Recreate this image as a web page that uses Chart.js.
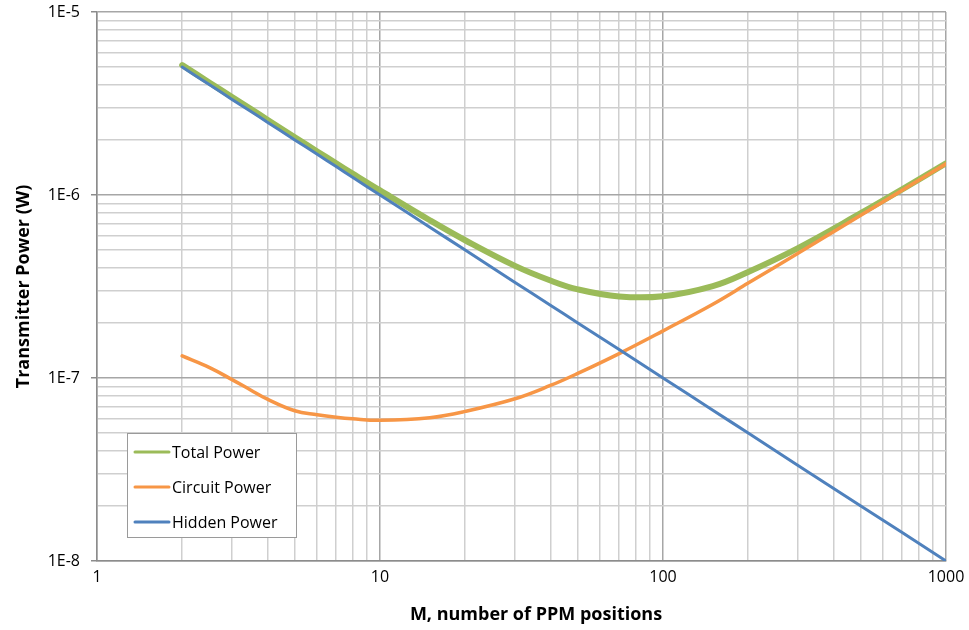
<!DOCTYPE html>
<html>
<head>
<meta charset="utf-8">
<script src="https://cdn.jsdelivr.net/npm/chart.js@4.4.1/dist/chart.umd.min.js"></script>
<style>
  html, body { margin: 0; padding: 0; background: #fff; }
  #wrap { width: 969px; height: 630px; position: relative; }
</style>
</head>
<body>
<div id="wrap"><canvas id="powerChart"></canvas></div>
<script>
// Data
const positions = [2, 2.5, 3, 3.5, 4, 5, 6, 7, 8, 10, 15, 20, 30, 40, 50, 70, 100, 150, 200, 300, 500, 700, 1000];

const totalPower = [5.13e-6, 4.11e-6, 3.43e-6, 2.95e-6, 2.58e-6, 2.07e-6, 1.73e-6, 1.49e-6, 1.31e-6, 1.06e-6, 7.28e-7, 5.66e-7,
    4.1e-7, 3.41e-7, 3.05e-7, 2.79e-7, 2.8e-7, 3.18e-7, 3.8e-7, 5.13e-7, 7.95e-7, 1.074e-6, 1.49e-6];

const circuitPower = [1.32e-7, 1.14e-7, 9.8e-8, 8.58e-8, 7.66e-8, 6.62e-8, 6.3e-8, 6.1e-8, 5.98e-8, 5.87e-8, 6.07e-8, 6.57e-8,
    7.7e-8, 9.1e-8, 1.06e-7, 1.36e-7, 1.81e-7, 2.53e-7, 3.3e-7, 4.8e-7, 7.75e-7, 1.06e-6, 1.48e-6];

const hiddenPower = [5e-6, 4e-6, 3.33e-6, 2.86e-6, 2.5e-6, 2e-6, 1.67e-6, 1.43e-6, 1.25e-6, 1e-6, 6.67e-7, 5e-7,
    3.33e-7, 2.5e-7, 2e-7, 1.43e-7, 1e-7, 6.67e-8, 5e-8, 3.33e-8, 2e-8, 1.43e-8, 1e-8];

const seriesLabels = ["Total Power", "Circuit Power", "Hidden Power"];

// Axis decades and their labels
const xDecades = [1, 10, 100, 1000];
const xTickLabels = ["1", "10", "100", "1000"];
const yDecades = [1e-8, 1e-7, 1e-6, 1e-5];
const yTickLabels = ["1E-8", "1E-7", "1E-6", "1E-5"];

const FONT = "'Open Sans', Lato, sans-serif";

// 1..9 inside each decade
function logTicks(decades) {
    const out = [];
    decades.forEach((d, i) => {
        if (i === decades.length - 1) {
            out.push(d);
            return;
        }
        for (let k = 1; k < 10; k++) out.push(d * k);
    });
    return out;
}

function isMajor(v, decades) {
    return decades.some((d) => Math.abs(v / d - 1) < 1e-6);
}

function labelFor(v, decades, labels) {
    const i = decades.findIndex((d) => Math.abs(v / d - 1) < 1e-6);
    return i >= 0 ? labels[i] : "";
}

function toPoints(values) {
    return positions.map((m, i) => ({ x: m, y: values[i] }));
}

// Legend box inside the plot, and the x axis title (sits a bit right of centre)
const extras = {
    id: "extras",
    afterDraw(chart) {
        const ctx = chart.ctx;
        ctx.save();

        ctx.fillStyle = "#000";
        ctx.font = "bold 18px " + FONT;
        ctx.textAlign = "center";
        ctx.textBaseline = "middle";
        ctx.fillText("M, number of PPM positions", 536, 615);

        const x = 127, y = 433, w = 169, h = 104;
        ctx.fillStyle = "#fff";
        ctx.fillRect(x, y, w, h);
        ctx.strokeStyle = "#9a9a9a";
        ctx.lineWidth = 1;
        ctx.strokeRect(x + 0.5, y + 0.5, w, h);
        const rows = [452, 487, 522];
        ctx.textAlign = "left";
        seriesLabels.forEach((label, i) => {
            const ds = chart.data.datasets[i];
            ctx.strokeStyle = ds.borderColor;
            ctx.lineWidth = 3;
            ctx.lineCap = "round";
            ctx.beginPath();
            ctx.moveTo(135, rows[i]);
            ctx.lineTo(169, rows[i]);
            ctx.stroke();
            ctx.fillStyle = "#000";
            ctx.font = "16px " + FONT;
            ctx.fillText(label, 172, rows[i] + 1);
        });
        ctx.restore();
    }
};

const chart = new Chart(document.getElementById("powerChart"), {
    type: "line",
    data: {
        datasets: [
            {
                label: seriesLabels[0],
                data: toPoints(totalPower),
                borderColor: "#9BBB59",
                borderWidth: 6,
                order: 3
            },
            {
                label: seriesLabels[1],
                data: toPoints(circuitPower),
                borderColor: "#F79646",
                borderWidth: 3.5,
                order: 2
            },
            {
                label: seriesLabels[2],
                data: toPoints(hiddenPower),
                borderColor: "#4F81BD",
                borderWidth: 3,
                order: 1
            }
        ]
    },
    options: {
        responsive: true,
        maintainAspectRatio: false,
        animation: false,
        elements: {
            point: { radius: 0 },
            line: { tension: 0.4, borderCapStyle: "round" }
        },
        layout: { padding: 0 },
        plugins: {
            legend: { display: false },
            tooltip: { enabled: false }
        },
        scales: {
            x: {
                type: "logarithmic",
                min: 1,
                max: 1000,
                afterBuildTicks(scale) {
                    scale.ticks = logTicks(xDecades).map((v) => ({ value: v }));
                },
                afterFit(scale) {
                    scale.height = 69;
                    scale.paddingLeft = 0;
                    scale.paddingRight = 23;
                },
                border: { color: "#8c8c8c", width: 1.5 },
                grid: {
                    color: (c) => isMajor(c.tick.value, xDecades) ? "#a6a6a6" : "#cfcfcf",
                    lineWidth: 1.5,
                    tickLength: 0,
                    drawTicks: false
                },
                ticks: {
                    autoSkip: false,
                    maxRotation: 0,
                    padding: 7,
                    color: "#000",
                    font: { family: FONT, size: 16 },
                    callback: (v) => labelFor(v, xDecades, xTickLabels)
                }
            },
            y: {
                type: "logarithmic",
                min: 1e-8,
                max: 1e-5,
                afterBuildTicks(scale) {
                    scale.ticks = logTicks(yDecades).map((v) => ({ value: v }));
                },
                afterFit(scale) {
                    scale.width = 97;
                    scale.paddingTop = 12;
                    scale.paddingBottom = 0;
                },
                border: { color: "#8c8c8c", width: 1.5 },
                grid: {
                    color: (c) => isMajor(c.tick.value, yDecades) ? "#a6a6a6" : "#cfcfcf",
                    tickColor: (c) => isMajor(c.tick.value, yDecades) ? "#8c8c8c" : "rgba(0,0,0,0)",
                    lineWidth: 1.5,
                    tickLength: 6
                },
                ticks: {
                    autoSkip: false,
                    padding: 11,
                    color: "#000",
                    font: { family: FONT, size: 16 },
                    callback: (v) => labelFor(v, yDecades, yTickLabels)
                },
                title: {
                    display: true,
                    text: "Transmitter Power (W)",
                    color: "#000",
                    font: { family: FONT, size: 18, weight: "bold" },
                    padding: { top: 13, bottom: 0 }
                }
            }
        }
    },
    plugins: [extras]
});
</script>
</body>
</html>
